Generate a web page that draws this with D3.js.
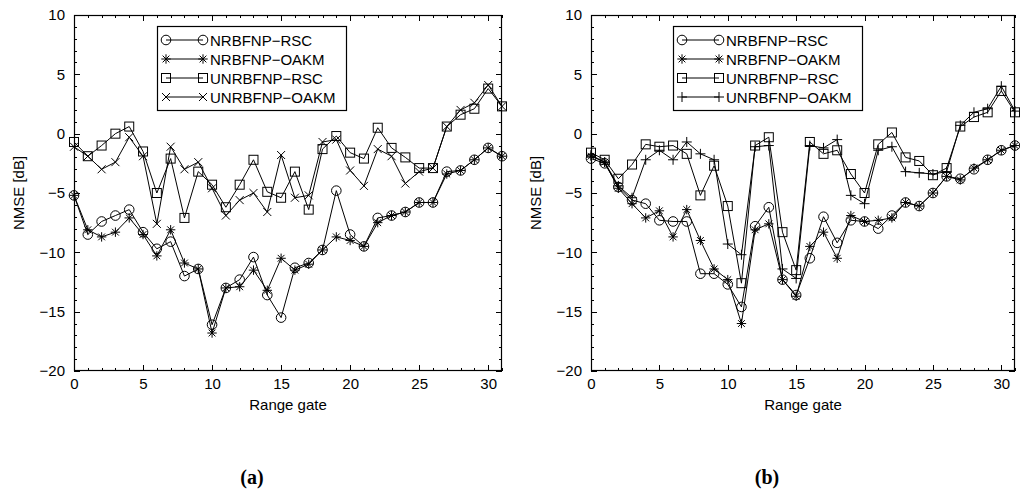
<!DOCTYPE html>
<html>
<head>
<meta charset="utf-8">
<script src="https://cdn.jsdelivr.net/npm/d3@7"></script>
<style>
  html, body { margin: 0; padding: 0; background: #fff; }
  svg { display: block; }
  text { font-family: "Liberation Sans", Arial, sans-serif; fill: #000; }
</style>
</head>
<body>
<svg id="chart" width="1020" height="491"></svg>
<script>
// Range gates 0..31
const gates = d3.range(0, 32);
const xTicks = [0, 5, 10, 15, 20, 25, 30];
const yTicks = [10, 5, 0, -5, -10, -15, -20];
const seriesNames = ["NRBFNP-RSC", "NRBFNP-OAKM", "UNRBFNP-RSC", "UNRBFNP-OAKM"];
const captions = ["(a)", "(b)"];

// Panel (a) NMSE values [dB]
const aNrbfRsc = [-5.2, -8.5, -7.4, -6.9, -6.4, -8.3, -9.7, -9.1, -12.0, -11.4, -16.1, -13.0, -12.3, -10.4, -13.6,
  -15.5, -11.3, -10.9, -9.8, -4.8, -8.5, -9.5, -7.1, -6.9, -6.6, -5.8, -5.8, -3.2, -3.1, -2.2, -1.2, -1.9];
const aNrbfOakm = [-5.2, -8.1, -8.7, -8.3, -7.1, -8.5, -10.3, -8.1, -10.9, -11.4, -16.8, -13.0, -12.9, -11.5, -13.2,
  -10.5, -11.5, -11.0, -9.8, -8.7, -9.0, -9.5, -7.5, -6.9, -6.6, -5.8, -5.8, -3.4, -3.1, -2.2, -1.2, -1.9];
const aUnrbfRsc = [-0.7, -1.9, -1.0, 0.0, 0.6, -1.5, -5.0, -2.1, -7.1, -3.2, -4.3, -6.2, -4.3, -2.2, -4.9,
  -5.4, -3.2, -6.4, -1.3, -0.2, -1.6, -2.1, 0.5, -1.2, -2.0, -2.9, -2.9, 0.6, 1.6, 2.1, 3.8, 2.3];
const aUnrbfOakm = [-1.1, -1.9, -3.0, -2.4, -0.3, -1.9, -7.6, -1.1, -3.0, -2.4, -4.6, -6.9, -5.6, -5.0, -6.6,
  -1.8, -5.4, -5.2, -0.7, -0.5, -3.1, -4.4, -1.3, -1.9, -4.2, -3.2, -2.9, 0.6, 2.0, 2.6, 4.1, 2.3];

// Panel (b) NMSE values [dB]
const bNrbfRsc = [-2.1, -2.5, -4.5, -5.6, -5.9, -7.3, -7.4, -7.4, -11.8, -11.8, -12.7, -14.6, -7.8, -6.2, -12.3,
  -13.6, -10.5, -7.0, -9.2, -7.3, -7.4, -8.0, -6.9, -5.8, -6.1, -5.0, -3.6, -3.8, -3.0, -2.2, -1.4, -1.0];
const bNrbfOakm = [-1.9, -2.4, -4.6, -5.9, -7.1, -6.5, -8.7, -6.4, -9.0, -11.4, -12.3, -16.0, -8.1, -7.6, -12.3,
  -13.7, -9.5, -8.3, -10.5, -6.9, -7.4, -7.3, -7.1, -5.8, -6.1, -5.0, -3.6, -3.9, -2.9, -2.2, -1.4, -1.0];
const bUnrbfRsc = [-1.6, -2.2, -3.8, -2.6, -0.9, -1.1, -1.0, -1.7, -5.2, -2.7, -6.1, -12.6, -1.0, -0.3, -8.3,
  -11.5, -0.7, -1.7, -1.4, -3.4, -5.0, -0.9, 0.1, -2.0, -2.3, -3.5, -2.9, 0.6, 1.4, 1.8, 3.6, 1.8];
const bUnrbfOakm = [-1.8, -2.4, -4.4, -5.4, -2.2, -1.4, -2.2, -0.7, -1.7, -2.2, -9.3, -10.2, -1.1, -1.0, -11.4,
  -12.2, -1.0, -1.2, -0.5, -5.2, -5.9, -1.4, -1.1, -3.2, -3.3, -3.4, -3.2, 0.7, 1.8, 2.1, 4.0, 1.9];

const svg = d3.select("#chart");

// Marker glyphs, centred on (0,0)
function drawMarker(sel, kind) {
  const s = sel.append("g").attr("fill", "none").attr("stroke", "#000").attr("stroke-width", 1);
  if (kind === "circle") {
    s.append("circle").attr("r", 4.8);
  } else if (kind === "square") {
    s.append("rect").attr("x", -4.5).attr("y", -4.5).attr("width", 9).attr("height", 9);
  } else if (kind === "star") {
    const r = 4.7, d = r * 0.72;
    s.append("path").attr("d", `M${-r},0H${r}M0,${-r}V${r}M${-d},${-d}L${d},${d}M${-d},${d}L${d},${-d}`);
  } else if (kind === "cross") {
    const d = 4;
    s.append("path").attr("d", `M${-d},${-d}L${d},${d}M${-d},${d}L${d},${-d}`);
  } else if (kind === "plus") {
    const r = 5;
    s.append("path").attr("d", `M${-r},0H${r}M0,${-r}V${r}`);
  }
}

function drawPanel(cfg) {
  const x = d3.scaleLinear().domain([0, 31]).range([cfg.left, cfg.right]);
  const y = d3.scaleLinear().domain([-20, 10]).range([371, 15]);
  const g = svg.append("g");

  // Inward ticks on all four sides
  const minor = d3.range(0, 32);
  const minorY = d3.range(-20, 11);
  const tickG = g.append("g").attr("stroke", "#000").attr("stroke-width", 1);
  minor.forEach(v => {
    const len = v % 5 === 0 ? 6 : 3;
    const px = Math.round(x(v)) + 0.5;
    tickG.append("line").attr("x1", px).attr("x2", px).attr("y1", 371).attr("y2", 371 - len);
    tickG.append("line").attr("x1", px).attr("x2", px).attr("y1", 15).attr("y2", 15 + len);
  });
  minorY.forEach(v => {
    const len = v % 5 === 0 ? 6 : 3;
    const py = Math.round(y(v)) + 0.5;
    tickG.append("line").attr("x1", cfg.left).attr("x2", cfg.left + len).attr("y1", py).attr("y2", py);
    tickG.append("line").attr("x1", cfg.right).attr("x2", cfg.right - len).attr("y1", py).attr("y2", py);
  });

  // Tick labels via D3 axes (tick marks hidden, drawn above)
  const fmt = d => d < 0 ? "\u2212" + Math.abs(d) : String(d);
  const xAxis = g.append("g").attr("transform", "translate(0,371)")
    .call(d3.axisBottom(x).tickValues(xTicks).tickSize(0).tickPadding(7).tickFormat(fmt));
  const yAxis = g.append("g").attr("transform", `translate(${cfg.left},0)`)
    .call(d3.axisLeft(y).tickValues(yTicks).tickSize(0).tickPadding(9).tickFormat(fmt));
  [xAxis, yAxis].forEach(a => {
    a.select(".domain").remove();
    a.selectAll("text").attr("font-size", 15).attr("font-family", "Liberation Sans, Arial, sans-serif").attr("fill", "#000");
  });

  // Frame
  g.append("rect").attr("x", cfg.left + 0.5).attr("y", 15.5)
    .attr("width", cfg.right - cfg.left - 1).attr("height", 355)
    .attr("fill", "none").attr("stroke", "#000").attr("stroke-width", 1.2);

  // Axis titles
  g.append("text").attr("x", (cfg.left + cfg.right) / 2).attr("y", 410)
    .attr("text-anchor", "middle").attr("font-size", 15).text("Range gate");
  g.append("text").attr("transform", `translate(${cfg.left - 50},193) rotate(-90)`)
    .attr("text-anchor", "middle").attr("font-size", 15).text("NMSE [dB]");
  g.append("text").attr("x", (cfg.left + cfg.right) / 2 - 36).attr("y", 484)
    .attr("text-anchor", "middle").attr("font-size", 20).attr("font-weight", "bold")
    .style("font-family", "Liberation Serif, Times New Roman, serif").text(cfg.caption);

  // Series lines and markers
  const line = d3.line().x((d, i) => x(gates[i])).y(d => y(d));
  cfg.series.forEach(s => {
    g.append("path").datum(s.values).attr("d", line)
      .attr("fill", "none").attr("stroke", "#000").attr("stroke-width", 1);
  });
  cfg.series.forEach(s => {
    s.values.forEach((v, i) => {
      const m = g.append("g").attr("transform", `translate(${x(gates[i])},${y(v)})`);
      drawMarker(m, s.marker);
    });
  });

  // Legend
  const lg = g.append("g");
  lg.append("rect").attr("x", cfg.legendX + 0.5).attr("y", 26.5).attr("width", 189).attr("height", 84)
    .attr("fill", "#fff").attr("stroke", "#000").attr("stroke-width", 1.2);
  cfg.series.forEach((s, k) => {
    const cy = 40 + k * 19;
    const x1 = cfg.legendX + 9, x2 = cfg.legendX + 46;
    lg.append("line").attr("x1", x1).attr("x2", x2).attr("y1", cy).attr("y2", cy)
      .attr("stroke", "#000").attr("stroke-width", 1);
    drawMarker(lg.append("g").attr("transform", `translate(${x1},${cy})`), s.marker);
    drawMarker(lg.append("g").attr("transform", `translate(${x2},${cy})`), s.marker);
    lg.append("text").attr("x", cfg.legendX + 53).attr("y", cy + 5.5)
      .attr("font-size", 15).text(s.name.replace("-", "\u2212"));
  });
}

drawPanel({
  left: 74, right: 502, legendX: 157, caption: captions[0],
  series: [
    { name: seriesNames[0], values: aNrbfRsc, marker: "circle" },
    { name: seriesNames[1], values: aNrbfOakm, marker: "star" },
    { name: seriesNames[2], values: aUnrbfRsc, marker: "square" },
    { name: seriesNames[3], values: aUnrbfOakm, marker: "cross" }
  ]
});

drawPanel({
  left: 591, right: 1015, legendX: 673, caption: captions[1],
  series: [
    { name: seriesNames[0], values: bNrbfRsc, marker: "circle" },
    { name: seriesNames[1], values: bNrbfOakm, marker: "star" },
    { name: seriesNames[2], values: bUnrbfRsc, marker: "square" },
    { name: seriesNames[3], values: bUnrbfOakm, marker: "plus" }
  ]
});
</script>
</body>
</html>
